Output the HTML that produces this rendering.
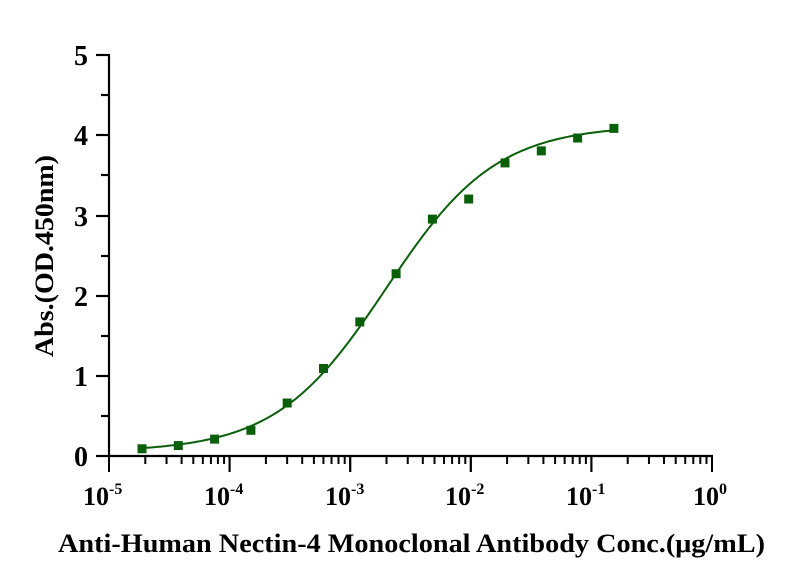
<!DOCTYPE html>
<html><head><meta charset="utf-8"><style>
html,body{margin:0;padding:0;background:#fff}
svg{display:block}
text{font-family:"Liberation Serif",serif;font-weight:bold;fill:#000}
</style></head><body>
<svg id="s" width="796" height="586" viewBox="0 0 796 586" xmlns="http://www.w3.org/2000/svg">
<g stroke="#000" stroke-width="2.2" fill="none">
<line x1="109" y1="54" x2="109" y2="457"/>
<line x1="108" y1="456" x2="713" y2="456"/>
<line x1="96" y1="55" x2="109" y2="55"/>
<line x1="101" y1="95" x2="109" y2="95"/>
<line x1="96" y1="135" x2="109" y2="135"/>
<line x1="101" y1="175" x2="109" y2="175"/>
<line x1="96" y1="216" x2="109" y2="216"/>
<line x1="101" y1="256" x2="109" y2="256"/>
<line x1="96" y1="296" x2="109" y2="296"/>
<line x1="101" y1="336" x2="109" y2="336"/>
<line x1="96" y1="376" x2="109" y2="376"/>
<line x1="101" y1="416" x2="109" y2="416"/>
<line x1="96" y1="456" x2="109" y2="456"/>
</g>
<g id="xt" stroke="#000" stroke-width="2" fill="none"></g>
<g font-size="28">
<text x="88" y="65" text-anchor="end">5</text>
<text x="88" y="145" text-anchor="end">4</text>
<text x="88" y="226" text-anchor="end">3</text>
<text x="88" y="306" text-anchor="end">2</text>
<text x="88" y="386" text-anchor="end">1</text>
<text x="88" y="466" text-anchor="end">0</text>
</g>
<g font-size="26">
<text x="83" y="505">10<tspan font-size="16" dy="-11">-5</tspan></text>
<text x="204" y="505">10<tspan font-size="16" dy="-11">-4</tspan></text>
<text x="325" y="505">10<tspan font-size="16" dy="-11">-3</tspan></text>
<text x="445" y="505">10<tspan font-size="16" dy="-11">-2</tspan></text>
<text x="566" y="505">10<tspan font-size="16" dy="-11">-1</tspan></text>
<text x="693" y="505">10<tspan font-size="16" dy="-11">0</tspan></text>
</g>
<text x="58" y="552" font-size="26" textLength="707" lengthAdjust="spacingAndGlyphs">Anti-Human Nectin-4 Monoclonal Antibody Conc.(μg/mL)</text>
<text transform="translate(53,357) rotate(-90)" font-size="26" textLength="202" lengthAdjust="spacingAndGlyphs">Abs.(OD.450nm)</text>
<path id="curve" fill="none" stroke="#0a5f0a" stroke-width="2"/>
<g id="pts" fill="#0a5f0a"></g>
</svg>
<script>
var ns="http://www.w3.org/2000/svg";
var X0=109,D=120.6,Y0=456,U=80.3;
var xt=document.getElementById('xt');
for(var d=0;d<5;d++){for(var k=1;k<=10;k++){var x=X0+(d+Math.log10(k))*D;var l=document.createElementNS(ns,'line');l.setAttribute('x1',x);l.setAttribute('x2',x);l.setAttribute('y1',456);l.setAttribute('y2',(k==1||k==10)?472:464);xt.appendChild(l);}}
var ys=[0.09,0.13,0.21,0.32,0.66,1.09,1.67,2.27,2.95,3.2,3.65,3.8,3.96,4.08];
var pts=document.getElementById('pts');
for(var i=0;i<ys.length;i++){var px=142+i*36.3,py=Y0-ys[i]*U;var r=document.createElementNS(ns,'rect');r.setAttribute('x',px-4.5);r.setAttribute('y',py-4.5);r.setAttribute('width',9);r.setAttribute('height',9);pts.appendChild(r);}
var b=0.05,t=4.12,c=386,h=0.95,p='';
for(var x=142;x<=614;x+=2){var lx=(x-c)/D;var y=b+(t-b)/(1+Math.pow(10,-h*lx));p+=(p?'L':'M')+x+' '+(Y0-y*U).toFixed(1);}
document.getElementById('curve').setAttribute('d',p);
</script>
</body></html>
